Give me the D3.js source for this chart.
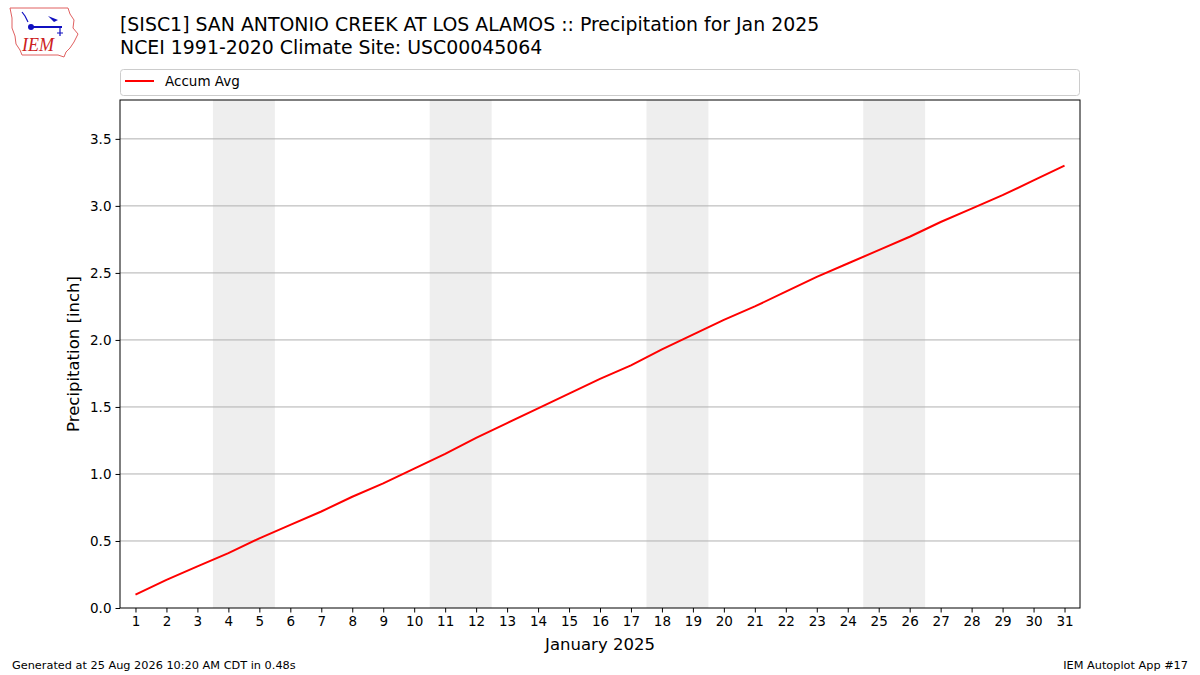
<!DOCTYPE html>
<html><head><meta charset="utf-8">
<script src="https://cdn.jsdelivr.net/npm/d3@7"></script>
<style>body{margin:0;background:#fff}svg{display:block;font-family:"DejaVu Sans",sans-serif}</style>
</head><body>
<svg id="c" width="1200" height="675"></svg>
<script>
const days = d3.range(1, 32);
const accumAvg = [0.10,0.21,0.31,0.41,0.52,0.62,0.72,0.83,0.93,1.04,1.15,1.27,1.38,1.49,1.60,1.71,1.81,1.93,2.04,2.15,2.25,2.36,2.47,2.57,2.67,2.77,2.88,2.98,3.08,3.19,3.30];
const weekendStarts = [4, 11, 18, 25];
const yTicks = [0,0.5,1.0,1.5,2.0,2.5,3.0,3.5];
const titleLines = ["[SISC1] SAN ANTONIO CREEK AT LOS ALAMOS :: Precipitation for Jan 2025","NCEI 1991-2020 Climate Site: USC00045064"];

const svg = d3.select("#c");
const L=120,R=1080,T=100,B=608;
const x = d3.scaleLinear().domain([0.5,31.5]).range([L,R]);
const y = d3.scaleLinear().domain([0,3.79]).range([B,T]);

// weekend shading
svg.selectAll("rect.wk").data(weekendStarts).enter().append("rect")
  .attr("x",d=>x(d-0.5)).attr("width",d=>x(d+1.5)-x(d-0.5))
  .attr("y",T).attr("height",B-T).attr("fill","#eeeeee");

// grid
svg.selectAll("line.g").data(yTicks.slice(1)).enter().append("line")
  .attr("x1",L).attr("x2",R).attr("y1",d=>y(d)).attr("y2",d=>y(d))
  .attr("stroke","#b0b0b0").attr("stroke-width",1);

// line
svg.append("path").datum(days.map((d,i)=>[d,accumAvg[i]]))
  .attr("d",d3.line().x(d=>x(d[0])).y(d=>y(d[1])))
  .attr("fill","none").attr("stroke","#ff0000").attr("stroke-width",2);

// frame
svg.append("rect").attr("x",L).attr("y",T).attr("width",R-L).attr("height",B-T)
  .attr("fill","none").attr("stroke","#000").attr("stroke-width",1);

// axes
const xa = svg.append("g").attr("transform",`translate(0,${B})`)
  .call(d3.axisBottom(x).tickValues(days).tickFormat(d3.format("d")).tickSize(4.5).tickPadding(4));
const ya = svg.append("g").attr("transform",`translate(${L},0)`)
  .call(d3.axisLeft(y).tickValues(yTicks).tickFormat(d3.format(".1f")).tickSize(4.5).tickPadding(4));
[xa,ya].forEach(a=>{a.select(".domain").remove();a.selectAll("text").attr("font-size",13.5).attr("fill","#000").attr("font-family","DejaVu Sans");a.selectAll("line").attr("stroke","#000");});

// axis labels
svg.append("text").attr("x",(L+R)/2).attr("y",650).attr("text-anchor","middle").attr("font-size",16.5).text("January 2025");
svg.append("text").attr("transform",`translate(79,${(T+B)/2}) rotate(-90)`).attr("text-anchor","middle").attr("font-size",16.5).text("Precipitation [inch]");

// title
svg.selectAll("text.t").data(titleLines).enter().append("text")
  .attr("x",120).attr("y",(d,i)=>31+i*23).attr("font-size",18.9).text(d=>d);

// legend
svg.append("rect").attr("x",120.5).attr("y",69.5).attr("width",959).attr("height",26).attr("rx",3)
  .attr("fill","#fff").attr("stroke","#cccccc");
svg.append("line").attr("x1",125).attr("x2",154).attr("y1",81).attr("y2",81).attr("stroke","#ff0000").attr("stroke-width",2);
svg.append("text").attr("x",165).attr("y",86).attr("font-size",13.5).text("Accum Avg");

// footer
svg.append("text").attr("x",12).attr("y",669).attr("font-size",11.3).text("Generated at 25 Aug 2026 10:20 AM CDT in 0.48s");
svg.append("text").attr("x",1188).attr("y",669).attr("text-anchor","end").attr("font-size",11.3).text("IEM Autoplot App #17");

// logo (approximate)
const lg = svg.append("g");
lg.append("path").attr("d","M10,8 L68,8 L70,14 L74,20 L73,28 L78,34 L74,42 L70,48 L66,52 L64,57 L58,55 L22,55 L20,50 L16,44 L15,36 L12,28 L12,18 Z")
  .attr("fill","none").attr("stroke","#e06060").attr("stroke-width",1);
lg.append("line").attr("x1",30).attr("x2",62).attr("y1",27).attr("y2",27).attr("stroke","#1010c0").attr("stroke-width",2);
lg.append("circle").attr("cx",31).attr("cy",27).attr("r",3).attr("fill","#1010c0");
lg.append("path").attr("d","M48,16 L58,20 L54,22 Z").attr("fill","#1010c0");
lg.append("path").attr("d","M22,12 L25,16 L28,22").attr("fill","none").attr("stroke","#1010c0").attr("stroke-width",1.2);
lg.append("path").attr("d","M60,27 L60,36 M57,33 L63,33").attr("fill","none").attr("stroke","#1010c0").attr("stroke-width",1.2);
lg.append("text").attr("x",22).attr("y",51).attr("font-family","Liberation Serif").attr("font-style","italic").attr("font-size",18).attr("fill","#cc2020").text("IEM");
</script>
</body></html>
